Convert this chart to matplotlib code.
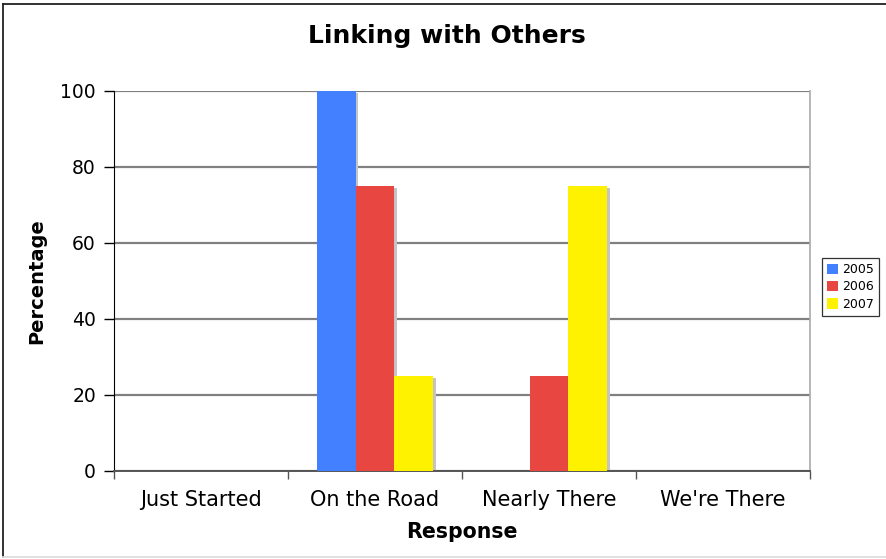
import matplotlib
matplotlib.use("Agg")
import matplotlib.pyplot as plt
import matplotlib.transforms as mtransforms
from matplotlib.lines import Line2D
import numpy as np

categories = ["Just Started", "On the Road", "Nearly There", "We're There"]
years = ["2005", "2006", "2007"]
values_2005 = [0, 100, 0, 0]
values_2006 = [0, 75, 25, 0]
values_2007 = [0, 25, 75, 0]
series = [values_2005, values_2006, values_2007]
colors = ["#4380FF", "#E84640", "#FFF200"]

W, H = 887, 559
plt.rcParams["font.family"] = "DejaVu Sans"
fig = plt.figure(figsize=(W / 100, H / 100), dpi=100)

# outer frame of the chart: dark top/left edges, light bottom edge
def px_line(x0, y0, x1, y1, color, lw):
    fig.add_artist(Line2D([x0 / W, x1 / W], [1 - y0 / H, 1 - y1 / H],
                          transform=fig.transFigure, color=color, linewidth=lw))

px_line(3, 4, W + 5, 4, "#222222", 1.3)
px_line(3, 4, 3, 557, "#222222", 1.3)
px_line(3, 557, W + 5, 557, "#DDDDDD", 1.3)

ax = fig.add_axes([114 / W, 1 - 471 / H, (810 - 114) / W, (471 - 91) / H])

x = np.arange(len(categories))
bw = 0.224
shadow = mtransforms.offset_copy(ax.transData, fig=fig, x=2.5, y=-2.0, units="dots")
for i, (vals, c, yr) in enumerate(zip(series, colors, years)):
    pos = x + (i - 1) * bw
    ax.bar(pos, vals, width=bw, color="#C4C4C4", transform=shadow, zorder=2,
           linewidth=0)
    ax.bar(pos, vals, width=bw, color=c, zorder=3, linewidth=0, label=yr)

ax.set_xlim(-0.5, 3.5)
ax.set_ylim(0, 100)
ax.set_yticks(range(0, 101, 20))
ax.yaxis.grid(True, color="#808080", linewidth=1.6, zorder=1)
ax.set_axisbelow(True)

ax.set_xticks(x)
ax.set_xticklabels(categories, fontsize=15)
ax.set_xticks(np.arange(-0.5, 4.0, 1.0), minor=True)
ax.tick_params(axis="x", which="major", length=0, pad=14)
ax.tick_params(axis="x", which="minor", length=6, width=1, color="#555555", direction="out")
ax.tick_params(axis="y", labelsize=13.5, length=7, width=1, direction="out", pad=6)

ax.spines["top"].set_visible(False)
ax.spines["right"].set_color("#AAAAAA")
ax.spines["right"].set_linewidth(1.2)
ax.spines["left"].set_color("black")
ax.spines["bottom"].set_color("#555555")
ax.spines["bottom"].set_linewidth(1.4)

ax.set_xlabel("Response", fontsize=14.8, fontweight="bold", labelpad=8.5)
ax.set_ylabel("Percentage", fontsize=14, fontweight="bold", labelpad=10)
fig.text(447 / W, 1 - 36 / H, "Linking with Others", fontsize=18, fontweight="bold",
         ha="center", va="center")

leg = fig.legend(loc="center left", bbox_to_anchor=(822 / W, 1 - 287 / H),
                 fontsize=9, frameon=True, fancybox=False, edgecolor="black",
                 handlelength=0.9, handleheight=0.9, handletextpad=0.3,
                 borderpad=0.4, labelspacing=0.35, borderaxespad=0)
leg.get_frame().set_linewidth(0.9)

fig.savefig("out.png", dpi=100)
